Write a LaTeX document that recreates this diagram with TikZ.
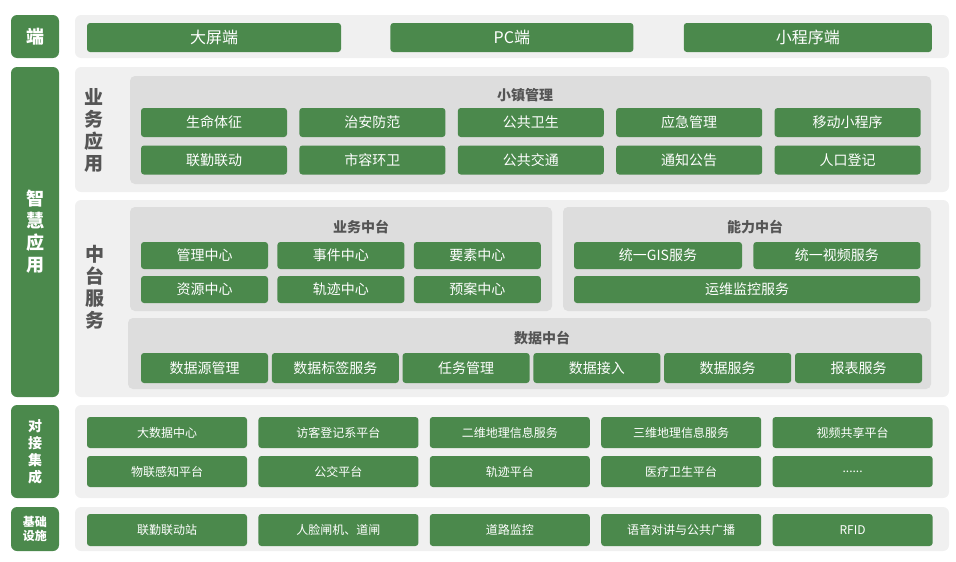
\documentclass[tikz,border=0pt]{standalone}
\usepackage{fontspec}
\newfontfamily\cjk{Noto Sans CJK SC}
\usetikzlibrary{positioning}
\definecolor{leafgreen}{RGB}{75,137,76}
\definecolor{panelgray}{RGB}{240,240,240}
\definecolor{boxgray}{RGB}{221,221,221}
\definecolor{titlegray}{RGB}{85,85,85}

\begin{document}
\begin{tikzpicture}
  [x=1pt, y=-1pt,
   every node/.style={inner sep=0pt, font=\cjk},
   side/.style={fill=leafgreen, rounded corners=6pt, minimum width=48pt, text=white, align=center},
   panel/.style={fill=panelgray, rounded corners=6pt, minimum width=874pt},
   box/.style={fill=boxgray, rounded corners=5pt},
   btn/.style={fill=leafgreen, rounded corners=3pt, text=white},
   topbtn/.style={btn, minimum height=29pt, font=\cjk\fontsize{16}{18}\selectfont},
   appbtn/.style={btn, minimum width=146pt, minimum height=29pt, font=\cjk\fontsize{14}{16}\selectfont},
   midbtn/.style={btn, minimum width=127pt, minimum height=27pt, font=\cjk\fontsize{14}{16}\selectfont},
   lowbtn/.style={btn, minimum width=160pt, minimum height=31pt, font=\cjk\fontsize{12}{14}\selectfont},
   title/.style={text=titlegray, font=\cjk\bfseries\fontsize{14}{16}\selectfont},
   tag/.style={text=titlegray, align=center, font=\cjk\bfseries\fontsize{19}{22}\selectfont}]
  \useasboundingbox (0,0) rectangle (956,562);

  % left column
  \node (L1) [side, minimum height=43pt, font=\cjk\bfseries\fontsize{18}{20}\selectfont] at (35,36.5) {端};
  \node (L2) [side, minimum height=330pt, font=\cjk\bfseries\fontsize{18}{22}\selectfont] at (35,232) {智\\慧\\应\\用};
  \node (L3) [side, minimum height=93pt, font=\cjk\bfseries\fontsize{14}{17}\selectfont] at (35,451.5) {对\\接\\集\\成};
  \node (L4) [side, minimum height=44pt, font=\cjk\bfseries\fontsize{12}{14}\selectfont] at (35,529) {基础\\设施};

  % panels
  \node (P1) [panel, minimum height=43pt] at (512,36.5) {};
  \node (P2) [panel, minimum height=125pt] at (512,129.5) {};
  \node (P3) [panel, minimum height=197pt] at (512,298.5) {};
  \node (P4) [panel, minimum height=93pt] at (512,451.5) {};
  \node (P5) [panel, minimum height=44pt] at (512,529) {};

  % end row
  \node (T1) [topbtn, minimum width=254pt] at (214,37.5) {大屏端};
  \node (T2) [topbtn, minimum width=243pt, right=49pt of T1] {PC端};
  \node (T3) [topbtn, minimum width=248pt, right=50pt of T2] {小程序端};

  % apps
  \node (YY) [tag] at (94,130) {业\\务\\应\\用};
  \node (S) [box, minimum width=801pt, minimum height=108pt] at (530.5,130) {};
  \node (ST) [title] at (525,95) {小镇管理};
  \node (A1) [appbtn] at (214,122.5) {生命体征};
  \node (A2) [appbtn, right=12pt of A1] {治安防范};
  \node (A3) [appbtn, right=12pt of A2] {公共卫生};
  \node (A4) [appbtn, right=12pt of A3] {应急管理};
  \node (A5) [appbtn, right=12pt of A4] {移动小程序};
  \node (B1) [appbtn] at (214,160) {联勤联动};
  \node (B2) [appbtn, right=12pt of B1] {市容环卫};
  \node (B3) [appbtn, right=12pt of B2] {公共交通};
  \node (B4) [appbtn, right=12pt of B3] {通知公告};
  \node (B5) [appbtn, right=12pt of B4] {人口登记};

  % middle services
  \node (ZZ) [tag] at (95,287) {中\\台\\服\\务};
  \node (Y) [box, minimum width=422pt, minimum height=104pt] at (341,259) {};
  \node (YT) [title] at (361,227) {业务中台};
  \node (Y1) [midbtn] at (204.5,255.5) {管理中心};
  \node (Y2) [midbtn, right=9pt of Y1] {事件中心};
  \node (Y3) [midbtn, right=9pt of Y2] {要素中心};
  \node (Y4) [midbtn] at (204.5,289.5) {资源中心};
  \node (Y5) [midbtn, right=9pt of Y4] {轨迹中心};
  \node (Y6) [midbtn, right=9pt of Y5] {预案中心};

  \node (N) [box, minimum width=368pt, minimum height=104pt] at (747,259) {};
  \node (NT) [title] at (755,227) {能力中台};
  \node (N1) [midbtn, minimum width=168pt] at (658,255.5) {统一GIS服务};
  \node (N2) [midbtn, minimum width=167pt, right=11pt of N1] {统一视频服务};
  \node (N3) [midbtn, minimum width=346pt] at (747,289.5) {运维监控服务};

  \node (D) [box, minimum width=803pt, minimum height=71pt] at (529.5,353.5) {};
  \node (DT) [title] at (542,338) {数据中台};
  \node (D1) [midbtn, minimum height=30pt] at (204.5,368) {数据源管理};
  \node (D2) [midbtn, minimum height=30pt, right=3.4pt of D1] {数据标签服务};
  \node (D3) [midbtn, minimum height=30pt, right=3.4pt of D2] {任务管理};
  \node (D4) [midbtn, minimum height=30pt, right=3.4pt of D3] {数据接入};
  \node (D5) [midbtn, minimum height=30pt, right=3.4pt of D4] {数据服务};
  \node (D6) [midbtn, minimum height=30pt, right=3.4pt of D5] {报表服务};

  % integration
  \node (J1) [lowbtn] at (167,432.5) {大数据中心};
  \node (J2) [lowbtn, right=11pt of J1] {访客登记系平台};
  \node (J3) [lowbtn, right=11pt of J2] {二维地理信息服务};
  \node (J4) [lowbtn, right=11pt of J3] {三维地理信息服务};
  \node (J5) [lowbtn, right=11pt of J4] {视频共享平台};
  \node (K1) [lowbtn] at (167,471.5) {物联感知平台};
  \node (K2) [lowbtn, right=11pt of K1] {公交平台};
  \node (K3) [lowbtn, right=11pt of K2] {轨迹平台};
  \node (K4) [lowbtn, right=11pt of K3] {医疗卫生平台};
  \node (K5) [lowbtn, right=11pt of K4] {......};

  % infrastructure
  \node (F1) [lowbtn, minimum height=32pt] at (167,530) {联勤联动站};
  \node (F2) [lowbtn, minimum height=32pt, right=11pt of F1] {人脸闸机、道闸};
  \node (F3) [lowbtn, minimum height=32pt, right=11pt of F2] {道路监控};
  \node (F4) [lowbtn, minimum height=32pt, right=11pt of F3] {语音对讲与公共广播};
  \node (F5) [lowbtn, minimum height=32pt, right=11pt of F4] {RFID};
\end{tikzpicture}
\end{document}
